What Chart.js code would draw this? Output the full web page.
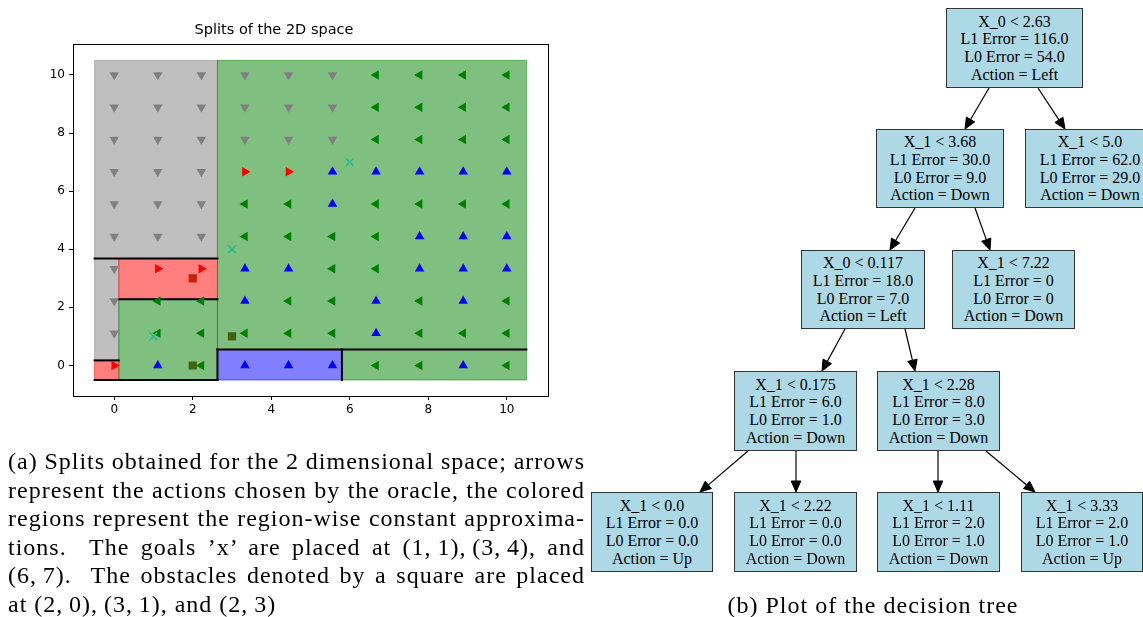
<!DOCTYPE html>
<html><head><meta charset="utf-8">
<script src="https://cdn.jsdelivr.net/npm/chart.js@4.4.1/dist/chart.umd.min.js"></script>
<style>
html,body{margin:0;padding:0;background:#fff;width:1143px;height:617px;overflow:hidden;position:relative}
#wrap{position:absolute;left:0;top:0;width:570px;height:420px}
.node{position:absolute;box-sizing:border-box;background:#add8e6;border:1.3px solid #333;font-family:"Liberation Serif","Times New Roman",serif;font-size:16px;line-height:17.6px;text-align:center;display:flex;flex-direction:column;justify-content:center;color:#000;white-space:nowrap}
.cap{position:absolute;font-family:"Liberation Serif","Times New Roman",serif;font-size:24px;letter-spacing:1px;color:#000;white-space:pre;line-height:29px}
#arrows{position:absolute;left:0;top:0}
</style></head>
<body>
<div id="wrap"><canvas id="c"></canvas></div>
<svg id="arrows" width="1143" height="617"></svg>
<div id="tree"></div>
<div id="capA"></div>
<div class="cap" id="capB" style="top:591px;">(b) Plot of the decision tree</div>
<script>
// ---------- data ----------
const gridX = [0, 1.11, 2.22, 3.33, 4.44, 5.56, 6.67, 7.78, 8.89, 10];
const gridY = [10, 8.89, 7.78, 6.67, 5.56, 4.44, 3.33, 2.22, 1.11, 0];
const actionRows = [
  "DDDDDDLLLL",
  "DDDDDDLLLL",
  "DDDDDDLLLL",
  "DDDRRUUUUU",
  "DDDLLULLLL",
  "DDDLLLLUUU",
  "DRRUULLUUU",
  "DLLULLULUL",
  "DLLLLLULLL",
  "RULUUULLUL"
];
const goalX = [1, 3, 6];
const goalY = [1, 4, 7];
const obstacleX = [2, 3, 2];
const obstacleY = [0, 1, 3];
const regionLeft   = [-0.5, -0.5, -0.5, 0.117, 0.117, 2.63, 2.63, 5.8];
const regionRight  = [2.63, 0.117, 0.117, 2.63, 2.63, 10.5, 5.8, 10.5];
const regionBottom = [3.68, 0.175, -0.5, 2.28, -0.5, 0.55, -0.5, -0.5];
const regionTop    = [10.5, 3.68, 0.175, 3.68, 2.28, 10.5, 0.55, 0.55];
const regionAction = ["D", "D", "R", "R", "L", "L", "U", "L"];
const splitX0 = [-0.5, 0.117, -0.5, -0.5, 2.63, 2.63, 5.8, 5.8];
const splitY0 = [3.68, 2.28, 0.175, -0.5, 0.55, -0.5, -0.5, 0.55];
const splitX1 = [2.63, 2.63, 0.117, 2.63, 5.8, 2.63, 5.8, 10.5];
const splitY1 = [3.68, 2.28, 0.175, -0.5, 0.55, 0.55, 0.55, 0.55];
const xTicks = [0, 2, 4, 6, 8, 10];
const yTicks = [0, 2, 4, 6, 8, 10];
const chartTitle = "Splits of the 2D space";

const treeLines = [
  ["X_0 < 2.63", "L1 Error = 116.0", "L0 Error = 54.0", "Action = Left"],
  ["X_1 < 3.68", "L1 Error = 30.0", "L0 Error = 9.0", "Action = Down"],
  ["X_1 < 5.0", "L1 Error = 62.0", "L0 Error = 29.0", "Action = Down"],
  ["X_0 < 0.117", "L1 Error = 18.0", "L0 Error = 7.0", "Action = Left"],
  ["X_1 < 7.22", "L1 Error = 0", "L0 Error = 0", "Action = Down"],
  ["X_1 < 0.175", "L1 Error = 6.0", "L0 Error = 1.0", "Action = Down"],
  ["X_1 < 2.28", "L1 Error = 8.0", "L0 Error = 3.0", "Action = Down"],
  ["X_1 < 0.0", "L1 Error = 0.0", "L0 Error = 0.0", "Action = Up"],
  ["X_1 < 2.22", "L1 Error = 0.0", "L0 Error = 0.0", "Action = Down"],
  ["X_1 < 1.11", "L1 Error = 2.0", "L0 Error = 1.0", "Action = Down"],
  ["X_1 < 3.33", "L1 Error = 2.0", "L0 Error = 1.0", "Action = Up"]
];
const treeParent = [-1, 0, 0, 1, 1, 3, 3, 5, 5, 6, 6];

const captionA = [
  "(a) Splits obtained for the 2 dimensional space; arrows",
  "represent the actions chosen by the oracle, the colored",
  "regions represent the region-wise constant approxima-",
  "tions.  The goals \u2019x\u2019 are placed at (1,\u20091),\u2009(3,\u20094), and",
  "(6,\u20097).  The obstacles denoted by a square are placed",
  "at (2,\u20090),\u2009(3,\u20091), and (2,\u20093)"
];

// ---------- styles ----------
const actionColor = {D: "#808080", L: "#008000", R: "#ff0000", U: "#0000ff"};
const regionFill = {D: "rgba(128,128,128,0.5)", L: "rgba(0,128,0,0.5)", R: "rgba(255,0,0,0.5)", U: "rgba(0,0,255,0.5)"};
const actionRot = {U: 0, R: 90, D: 180, L: 270};
const actionName = {D: "Down", L: "Left", R: "Right", U: "Up"};

// ---------- build datasets ----------
function actionPoints(a) {
  const pts = [];
  actionRows.forEach((row, r) => {
    for (let c = 0; c < row.length; c++) if (row[c] === a) pts.push({x: gridX[c], y: gridY[r]});
  });
  return pts;
}
const datasets = [];
datasets.push({label: "goals", data: goalX.map((x, i) => ({x, y: goalY[i]})),
  pointStyle: "crossRot", pointRadius: 5.5, borderColor: "#22c08c", backgroundColor: "#22c08c", pointBorderWidth: 1.6});
["D", "L", "R", "U"].forEach(a => {
  datasets.push({label: actionName[a], data: actionPoints(a), pointStyle: "triangle",
    pointRotation: actionRot[a], pointRadius: 5.5, backgroundColor: actionColor[a],
    borderColor: actionColor[a], pointBorderWidth: 0});
});
datasets.push({label: "obstacles", data: obstacleX.map((x, i) => ({x, y: obstacleY[i]})),
  pointStyle: "rect", pointRadius: 5.8, backgroundColor: "#8b4513", borderColor: "#8b4513", pointBorderWidth: 0});

const regionPlugin = {
  id: "regions",
  afterDatasetDraw(chart, args) {
    if (chart.data.datasets[args.index].label !== "obstacles") return;
    const {ctx, scales: {x, y}} = chart;
    ctx.save();
    for (let i = 0; i < regionLeft.length; i++) {
      const px0 = x.getPixelForValue(regionLeft[i]), px1 = x.getPixelForValue(regionRight[i]);
      const py0 = y.getPixelForValue(regionTop[i]), py1 = y.getPixelForValue(regionBottom[i]);
      ctx.fillStyle = regionFill[regionAction[i]];
      ctx.fillRect(px0, py0, px1 - px0, py1 - py0);
      ctx.strokeStyle = regionFill[regionAction[i]];
      ctx.lineWidth = 1;
      ctx.strokeRect(px0, py0, px1 - px0, py1 - py0);
    }
    ctx.strokeStyle = "#000";
    ctx.lineWidth = 2;
    ctx.lineCap = "square";
    for (let i = 0; i < splitX0.length; i++) {
      ctx.beginPath();
      ctx.moveTo(x.getPixelForValue(splitX0[i]), y.getPixelForValue(splitY0[i]));
      ctx.lineTo(x.getPixelForValue(splitX1[i]), y.getPixelForValue(splitY1[i]));
      ctx.stroke();
    }
    ctx.restore();
  },
  afterDatasetsDraw(chart) {
    const {ctx, chartArea: a} = chart;
    ctx.save();
    ctx.strokeStyle = "#000";
    ctx.lineWidth = 1;
    ctx.strokeRect(Math.round(a.left) + 0.5, Math.round(a.top) + 0.5, Math.round(a.right - a.left), Math.round(a.bottom - a.top));
    ctx.restore();
  }
};

new Chart(document.getElementById("c"), {
  type: "scatter",
  data: {datasets},
  plugins: [regionPlugin],
  options: {
    responsive: true, maintainAspectRatio: false, animation: false,
    layout: {padding: {left: 0, right: 22, top: 0, bottom: 0}},
    plugins: {
      legend: {display: false}, tooltip: {enabled: false},
      title: {display: true, text: chartTitle, color: "#000",
        font: {family: "DejaVu Sans", size: 14.5, weight: "normal"}, padding: {top: 22, bottom: 5}}
    },
    scales: {
      x: {type: "linear", min: -1.05, max: 11.05,
        afterBuildTicks: s => { s.ticks = xTicks.map(v => ({value: v})); },
        afterFit: s => { s.height = 24; },
        grid: {drawOnChartArea: false, drawTicks: true, tickLength: 4, color: "#000"},
        border: {display: false},
        ticks: {color: "#000", font: {family: "DejaVu Sans", size: 12}, padding: 3, maxRotation: 0}},
      y: {type: "linear", min: -1.05, max: 11.05,
        afterBuildTicks: s => { s.ticks = yTicks.map(v => ({value: v})); },
        afterFit: s => { s.width = 73; },
        grid: {drawOnChartArea: false, drawTicks: true, tickLength: 4, color: "#000"},
        border: {display: false},
        ticks: {color: "#000", font: {family: "DejaVu Sans", size: 12}, padding: 4}}
    }
  }
});

// ---------- tree ----------
const nodeBox = [
  [946, 8, 137, 80], [876, 129, 128, 79], [1025, 129, 130, 79],
  [801, 250, 124, 79], [952, 250, 123, 79], [734, 371, 123, 80], [877, 371, 123, 80],
  [591, 492, 122, 80], [734, 492, 123, 80], [877, 492, 123, 80], [1021, 492, 122, 80]
];
const arrowPos = {
  1: [989, 88, 965, 129], 2: [1038, 88, 1065, 129],
  3: [915, 208, 890, 250], 4: [975, 208, 990, 250],
  5: [845, 329, 822, 371], 6: [905, 329, 915, 371],
  7: [748, 451, 700, 492], 8: [796, 451, 796, 492],
  9: [938, 451, 938, 492], 10: [986, 451, 1035, 492]
};
const tree = document.getElementById("tree");
treeLines.forEach((lines, i) => {
  const d = document.createElement("div");
  d.className = "node";
  const b = nodeBox[i];
  d.style.left = b[0] + "px"; d.style.top = b[1] + "px"; d.style.width = b[2] + "px"; d.style.height = b[3] + "px";
  lines.forEach(t => { const s = document.createElement("div"); s.textContent = t; d.appendChild(s); });
  tree.appendChild(d);
});
const svg = document.getElementById("arrows");
let svgHtml = "";
treeParent.forEach((p, i) => {
  if (p < 0) return;
  const [x1, y1, x2, y2] = arrowPos[i];
  const dx = x2 - x1, dy = y2 - y1, L = Math.hypot(dx, dy), ux = dx / L, uy = dy / L;
  const hl = 11, hw = 4.8;
  const bx = x2 - ux * hl, by = y2 - uy * hl;
  svgHtml += `<line x1="${x1}" y1="${y1}" x2="${bx}" y2="${by}" stroke="#000" stroke-width="1.2"/>`;
  svgHtml += `<polygon points="${x2},${y2} ${bx - uy * hw},${by + ux * hw} ${bx + uy * hw},${by - ux * hw}" fill="#000" stroke="#000" stroke-width="1"/>`;
});
svg.innerHTML = svgHtml;

// ---------- caption ----------
const capA = document.getElementById("capA");
const capWidth = 577;
captionA.forEach((t, i) => {
  const d = document.createElement("div");
  d.className = "cap";
  d.style.left = "8px"; d.style.top = (447 + i * 28.6) + "px";
  d.textContent = t;
  capA.appendChild(d);
  if (i < captionA.length - 1) {
    const w = d.getBoundingClientRect().width;
    const spaces = (t.match(/ /g) || []).length;
    d.style.wordSpacing = ((capWidth - w) / spaces) + "px";
  }
});
const capB = document.getElementById("capB");
capB.style.left = (873 - capB.getBoundingClientRect().width / 2) + "px";
</script>
</body></html>
